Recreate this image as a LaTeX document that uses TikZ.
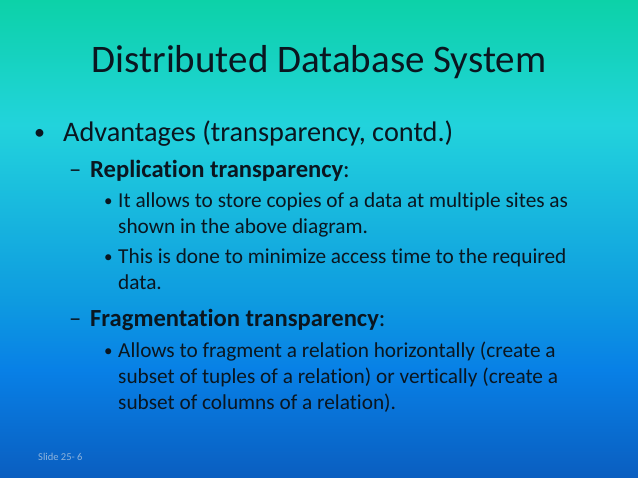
\documentclass[tikz,border=0pt]{standalone}
\usepackage{fontspec}
\setmainfont{Carlito}[RawFeature=-liga]
\usepackage{tikz}

\definecolor{bgtop}{HTML}{0CD2A8}
\definecolor{bgcyan}{HTML}{22D3DC}
\definecolor{bgmid}{HTML}{0E9BE0}
\definecolor{bglow}{HTML}{0880E6}
\definecolor{bgbottom}{HTML}{0A5EC0}
\definecolor{ink}{HTML}{0A1620}
\definecolor{slidenum}{HTML}{8FB4DC}

\pgfdeclareverticalshading{slidebg}{100bp}{color(0bp)=(bgbottom); color(25bp)=(bgbottom); color(36.3bp)=(bglow); color(43.6bp)=(bgmid); color(61.9bp)=(bgcyan); color(75bp)=(bgtop); color(100bp)=(bgtop)}

\begin{document}
\begin{tikzpicture}[x=1pt, y=-1pt,
    lvla/.style={anchor=base west, inner sep=0pt, font=\fontsize{28.3}{34}\selectfont, text=ink},
    lvlb/.style={anchor=base west, inner sep=0pt, font=\fontsize{24.6}{30}\selectfont, text=ink},
    lvlc/.style={anchor=base west, inner sep=0pt, align=left, font=\fontsize{21.3}{26}\selectfont, text=ink},
    bul/.style={anchor=base west, inner sep=0pt, text=ink}]
    % background
    \shade[shading=slidebg] (0,0) rectangle (638,478);
    \useasboundingbox (0,0) rectangle (638,478);

    % title
    \node[inner sep=0pt, anchor=base, font=\fontsize{39}{46}\selectfont, text=ink] (title) at (319,73) {Distributed Database System};

    % level 1
    \node[bul, font=\fontsize{22}{26}\selectfont] (b1) at (34,140) {•};
    \node[lvla] (adv) at (63,142) {Advantages (transparency, contd.)};

    % replication (multi-line nodes sit on the baseline of their last line)
    \node[bul, font=\fontsize{24.6}{30}\selectfont] (d1) at (69,178) {–};
    \node[lvlb] (repl) at (90,178) {\textbf{Replication transparency}:};
    \node[bul, font=\fontsize{17}{20}\selectfont] (b2) at (104,207) {•};
    \node[lvlc] (repla) at (118,234) {It allows to store copies of a data at multiple sites as\\shown in the above diagram.};
    \node[bul, font=\fontsize{17}{20}\selectfont] (b3) at (104,263) {•};
    \node[lvlc] (replb) at (118,290) {This is done to minimize access time to the required\\data.};

    % fragmentation
    \node[bul, font=\fontsize{24.6}{30}\selectfont] (d2) at (69,327) {–};
    \node[lvlb] (frag) at (90,327) {\textbf{Fragmentation transparency}:};
    \node[bul, font=\fontsize{17}{20}\selectfont] (b4) at (104,357) {•};
    \node[lvlc] (fraga) at (118,410) {Allows to fragment a relation horizontally (create a\\subset of tuples of a relation) or vertically (create a\\subset of columns of a relation).};

    % slide number
    \node[anchor=base west, inner sep=0pt, font=\fontsize{10.5}{12}\selectfont, text=slidenum] (num) at (38,461) {Slide 25- 6};
\end{tikzpicture}
\end{document}
